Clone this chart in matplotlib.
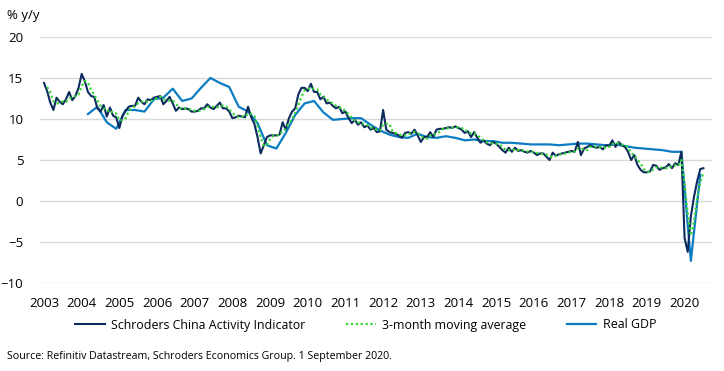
import numpy as np
import pandas as pd
import matplotlib
matplotlib.use("Agg")
import matplotlib.pyplot as plt

plt.rcParams['font.family'] = ['Open Sans', 'DejaVu Sans']

# Schroders China Activity Indicator, monthly % y/y, Jan 2003 - Jul 2020
cai_2003 = [14.4, 13.4, 12.0, 11.1, 12.6, 12.1, 11.8, 12.4, 13.3, 12.3, 12.8, 13.8]
cai_2004 = [15.5, 14.6, 13.3, 12.8, 12.7, 11.3, 10.9, 11.7, 10.3, 11.4, 10.4, 10.2]
cai_2005 = [8.9, 10.4, 11.0, 11.5, 11.6, 11.6, 12.6, 12.1, 11.8, 12.4, 12.3, 12.6]
cai_2006 = [12.7, 12.8, 11.8, 12.2, 12.7, 11.9, 11.0, 11.4, 11.2, 11.3, 11.2, 10.9]
cai_2007 = [10.9, 11.0, 11.3, 11.3, 11.8, 11.4, 11.2, 11.6, 12.0, 11.3, 11.3, 10.9]
cai_2008 = [10.1, 10.2, 10.4, 10.3, 10.2, 11.5, 10.2, 9.4, 7.8, 5.8, 6.8, 7.8]
cai_2009 = [8.0, 8.0, 8.0, 8.1, 9.6, 8.7, 10.1, 10.9, 11.3, 13.0, 13.8, 13.8]
cai_2010 = [13.4, 14.3, 13.3, 13.3, 12.4, 12.7, 11.9, 12.0, 11.6, 11.3, 11.5, 10.7]
cai_2011 = [10.9, 10.1, 9.5, 9.9, 9.3, 9.6, 9.0, 9.2, 8.7, 8.9, 8.4, 8.5]
cai_2012 = [11.1, 8.7, 8.4, 8.3, 8.2, 8.0, 7.7, 8.3, 8.4, 8.2, 8.7, 8.0]
cai_2013 = [7.2, 7.8, 7.8, 8.4, 7.8, 8.7, 8.8, 8.8, 8.9, 9.0, 8.9, 9.1]
cai_2014 = [8.9, 8.7, 8.3, 8.5, 7.8, 8.4, 7.7, 7.1, 7.4, 7.0, 6.8, 7.2]
cai_2015 = [7.0, 6.6, 6.2, 5.9, 6.5, 6.0, 6.5, 6.1, 6.2, 6.0, 5.9, 6.1]
cai_2016 = [5.9, 5.6, 5.8, 5.8, 5.4, 5.0, 5.9, 5.5, 5.7, 5.8, 5.9, 6.0]
cai_2017 = [6.1, 6.0, 7.2, 5.6, 6.4, 6.6, 6.8, 6.6, 6.5, 6.6, 6.3, 6.8]
cai_2018 = [6.7, 7.4, 6.6, 7.2, 6.8, 6.6, 6.0, 5.0, 5.6, 4.4, 3.8, 3.5]
cai_2019 = [3.5, 3.6, 4.4, 4.3, 3.8, 4.0, 4.1, 4.5, 4.0, 4.6, 4.4, 6.0]
cai_2020 = [-4.5, -6.2, -1.9, 0.5, 2.4, 3.9, 4.0]

# Real GDP, quarterly % y/y, Q1 2004 - Q2 2020
gdp = [10.6, 11.5, 9.6, 8.8,
       11.1, 11.1, 10.9, 12.4,
       12.6, 13.7, 12.2, 12.5,
       13.8, 15.0, 14.4, 13.9,
       11.5, 10.9, 9.5, 6.8,
       6.4, 8.3, 10.5, 11.9,
       12.2, 10.8, 9.9, 10.0,
       10.1, 10.1, 9.3, 8.6,
       8.1, 7.8, 7.7, 8.2,
       7.8, 7.7, 7.9, 7.7,
       7.4, 7.5, 7.3, 7.3,
       7.1, 7.1, 7.0, 6.9,
       6.9, 6.9, 6.8, 6.9,
       7.0, 7.0, 6.9, 6.8,
       6.9, 6.7, 6.5, 6.4,
       6.3, 6.2, 6.0, 6.0,
       -7.3, 3.2]

years = list(range(2003, 2021))
source = "Source: Refinitiv Datastream, Schroders Economics Group. 1 September 2020."

cai = np.array(cai_2003 + cai_2004 + cai_2005 + cai_2006 + cai_2007 + cai_2008 +
               cai_2009 + cai_2010 + cai_2011 + cai_2012 + cai_2013 + cai_2014 +
               cai_2015 + cai_2016 + cai_2017 + cai_2018 + cai_2019 + cai_2020)
t_cai = 2003 + np.arange(len(cai)) / 12
ma3 = pd.Series(cai).rolling(3, min_periods=2).mean()
# quarterly points sit on the quarter-end month (Mar 2004 first)
t_gdp = 2003 + (14 + 3 * np.arange(len(gdp))) / 12

navy = "#0d2b5e"
green = "#33d633"
blue = "#0b7cc1"

fig = plt.figure(figsize=(7.24, 3.71), dpi=100)
ax = fig.add_axes([40/724, 1-283/371, 672/724, 246/371])

ax.plot(t_cai, cai, color=navy, lw=1.5, zorder=3, label="Schroders China Activity Indicator")
ax.plot(t_cai, ma3, color=green, lw=1.6, ls=(0, (1, 1.2)), zorder=4, label="3-month moving average")
ax.plot(t_gdp, gdp, color=blue, lw=1.6, zorder=2, label="Real GDP")

ax.set_xlim(2002.894, 2020.728)
ax.set_ylim(-10, 20)
ax.set_yticks(range(-10, 21, 5))
ax.set_xticks(years)
ax.set_xticklabels([str(y) for y in years])
ax.grid(axis="y", color="#d9d9d9", lw=1)
ax.set_axisbelow(True)
for s in ax.spines.values():
    s.set_visible(False)
ax.tick_params(length=0, labelsize=9.5, colors="#000000")
ax.tick_params(axis="x", pad=10)
ax.tick_params(axis="y", pad=12)

fig.text(7/724, 1-16/371, "% y/y", fontsize=9.5, va="center", ha="left")

fig.legend(loc="center", bbox_to_anchor=(0.505, 1-325/371), ncol=3, frameon=False,
           fontsize=8.9, handlelength=2.4, columnspacing=3.3, handletextpad=0.5)

fig.text(7/724, 1-357/371, source, fontsize=7.7, va="center", ha="left")

fig.savefig("out.png", dpi=100)
